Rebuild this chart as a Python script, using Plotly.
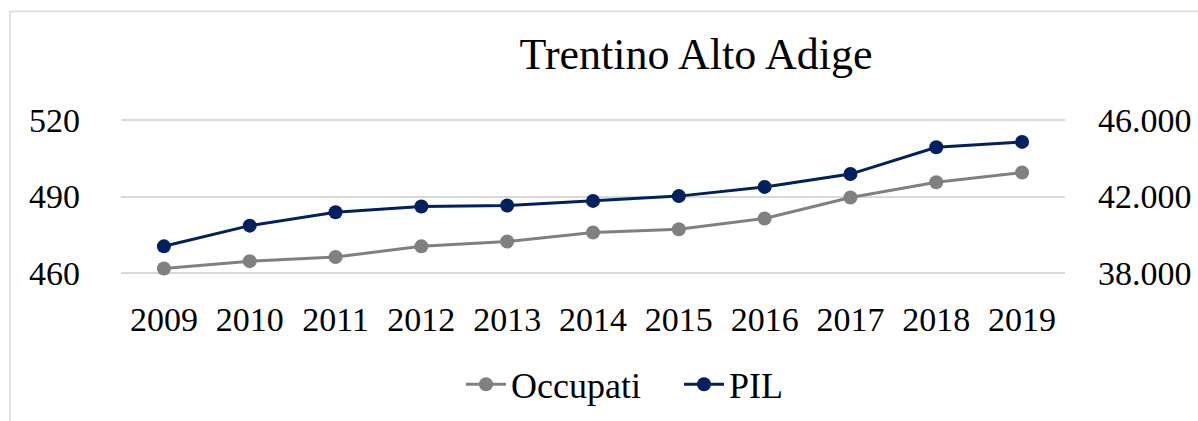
import plotly.graph_objects as go

years = ["2009", "2010", "2011", "2012", "2013", "2014", "2015", "2016", "2017", "2018", "2019"]
occupati = [461.8, 464.7, 466.3, 470.5, 472.4, 475.9, 477.2, 481.4, 489.6, 495.6, 499.4]
pil = [39400, 40480, 41180, 41480, 41530, 41770, 42020, 42500, 43170, 44570, 44850]

W, H = 1198, 421
L, R = 121, 1065
GT, GB = 120, 273          # pixel rows of the 520 and 460 gridlines
Y1MIN, Y1MAX = 460, 520
Y2MIN, Y2MAX = 38000, 46000
FONT = "Liberation Serif"

pad1 = 1.5                                  # axis padding in left-axis units
pxu = (GB - GT) / (Y1MAX - Y1MIN)           # px per left-axis unit
T = GT - pad1 * pxu
B = GB + pad1 * pxu
pad2 = pad1 * (Y2MAX - Y2MIN) / (Y1MAX - Y1MIN)

fig = go.Figure()
fig.add_trace(go.Scatter(
    x=years, y=occupati, name="Occupati", mode="lines+markers",
    line=dict(color="#808080", width=3), marker=dict(color="#808080", size=14),
    yaxis="y"))
fig.add_trace(go.Scatter(
    x=years, y=pil, name="PIL", mode="lines+markers",
    line=dict(color="#002060", width=3), marker=dict(color="#002060", size=14),
    yaxis="y2"))

pw = R - L
ph = B - T
def px_x(v):
    return (v - L) / pw
def px_y(v):
    return (B - v) / ph

fig.update_layout(
    width=W, height=H,
    margin=dict(l=L, r=W - R, t=T, b=H - B, autoexpand=False),
    paper_bgcolor="white", plot_bgcolor="white",
    separators=",.",
    font=dict(family=FONT, size=34, color="#000000"),
    title=dict(text="Trentino Alto Adige", font=dict(family=FONT, size=44, color="#000000"),
               xref="paper", x=px_x(696), xanchor="center",
               yref="container", y=1 - 54 / H, yanchor="middle"),
    xaxis=dict(type="category", range=[-0.5, 10.5], showgrid=False, zeroline=False,
               showline=False, ticks="", ticklabelstandoff=int(round(23 - pad1 * pxu)),
               tickfont=dict(family=FONT, size=34, color="#000000")),
    yaxis=dict(range=[Y1MIN - pad1, Y1MAX + pad1], dtick=30, tick0=460, showgrid=True,
               gridcolor="#D9D9D9", gridwidth=1.5, zeroline=False, showline=False, ticks="",
               ticklabelstandoff=40,
               tickfont=dict(family=FONT, size=34, color="#000000")),
    yaxis2=dict(range=[Y2MIN - pad2, Y2MAX + pad2], dtick=4000, tick0=38000, overlaying="y",
                side="right", showgrid=False, zeroline=False, showline=False, ticks="",
                tickformat=",d", ticklabelstandoff=32,
                tickfont=dict(family=FONT, size=34, color="#000000")),
    legend=dict(orientation="h", xref="paper", x=px_x(461), xanchor="left",
                yref="paper", y=px_y(384), yanchor="middle",
                font=dict(family=FONT, size=36, color="#000000"),
                bgcolor="rgba(0,0,0,0)", itemwidth=40, entrywidth=163),
    showlegend=True,
)

# chart area border (extends beyond the visible crop)
fig.add_shape(type="rect", xref="paper", yref="paper",
              x0=px_x(10), x1=px_x(1300), y0=px_y(500), y1=px_y(12),
              line=dict(color="#D9D9D9", width=1.5), fillcolor="rgba(0,0,0,0)", layer="below")

fig.write_html("out.html", config={"displayModeBar": False},
               post_script="document.body.style.margin='0';document.body.style.overflow='hidden';")
